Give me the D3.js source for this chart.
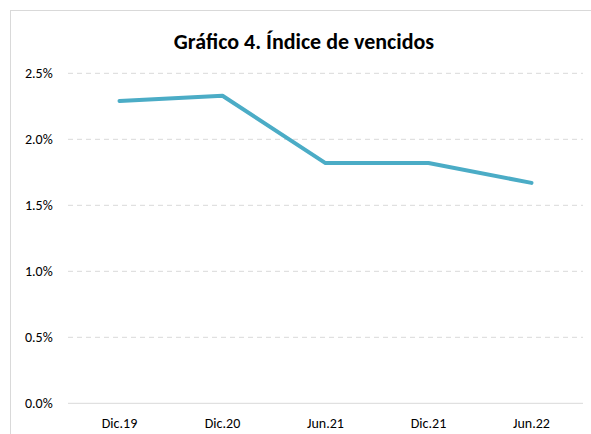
<!DOCTYPE html>
<html>
<head>
<meta charset="utf-8">
<script src="https://cdn.jsdelivr.net/npm/d3@7"></script>
<style>
  body { margin: 0; background: #fff; }
  text { font-family: Carlito, Calibri, Lato, "Liberation Sans", sans-serif; fill: #000; }
</style>
</head>
<body>
<div id="chart"></div>
<script>
var categories = ["Dic.19", "Dic.20", "Jun.21", "Dic.21", "Jun.22"];
var values = [2.29, 2.33, 1.82, 1.82, 1.67];
var yTicks = [0, 0.5, 1.0, 1.5, 2.0, 2.5];
var title = "Gráfico 4. Índice de vencidos";

var W = 591, H = 434;
var margin = {top: 73.3, right: 8, bottom: 30.7, left: 68},
    width = W - margin.left - margin.right,
    height = H - margin.top - margin.bottom;

var svg = d3.select("#chart").append("svg")
    .attr("width", W)
    .attr("height", H);

// chart frame
svg.append("rect")
    .attr("x", 10.5).attr("y", 10.5)
    .attr("width", W).attr("height", H)
    .attr("fill", "none")
    .attr("stroke", "#d9d9d9");

svg.append("text")
    .attr("x", 304)
    .attr("y", 49.3)
    .attr("text-anchor", "middle")
    .style("font-weight", "bold")
    .style("font-size", "22px")
    .text(title);

var g = svg.append("g")
    .attr("transform", "translate(" + margin.left + "," + margin.top + ")");

var x = d3.scalePoint()
    .domain(categories)
    .range([0, width])
    .padding(0.5);

var y = d3.scaleLinear()
    .domain([0, 2.5])
    .range([height, 0]);

// gridlines
g.selectAll(".grid")
    .data(yTicks)
  .enter().append("line")
    .attr("class", "grid")
    .attr("x1", 0)
    .attr("x2", width)
    .attr("y1", function(d) { return y(d); })
    .attr("y2", function(d) { return y(d); })
    .attr("stroke", "#d9d9d9")
    .attr("stroke-width", 1)
    .attr("stroke-dasharray", function(d) { return d === 0 ? null : "5,4"; });

// y labels
g.selectAll(".ylab")
    .data(yTicks)
  .enter().append("text")
    .attr("class", "ylab")
    .attr("x", -15.3)
    .attr("y", function(d) { return y(d); })
    .attr("dy", "0.35em")
    .attr("text-anchor", "end")
    .style("font-size", "14px")
    .text(function(d) { return d.toFixed(1) + "%"; });

// x labels
g.selectAll(".xlab")
    .data(categories)
  .enter().append("text")
    .attr("class", "xlab")
    .attr("x", function(d) { return x(d); })
    .attr("y", height + 20)
    .attr("dy", "0.35em")
    .attr("text-anchor", "middle")
    .style("font-size", "14px")
    .text(function(d) { return d; });

var line = d3.line()
    .x(function(d, i) { return x(categories[i]); })
    .y(function(d) { return y(d); });

g.append("path")
    .datum(values)
    .attr("d", line)
    .attr("fill", "none")
    .attr("stroke", "#4bacc6")
    .attr("stroke-width", 4)
    .attr("stroke-linecap", "round")
    .attr("stroke-linejoin", "round");
</script>
</body>
</html>
